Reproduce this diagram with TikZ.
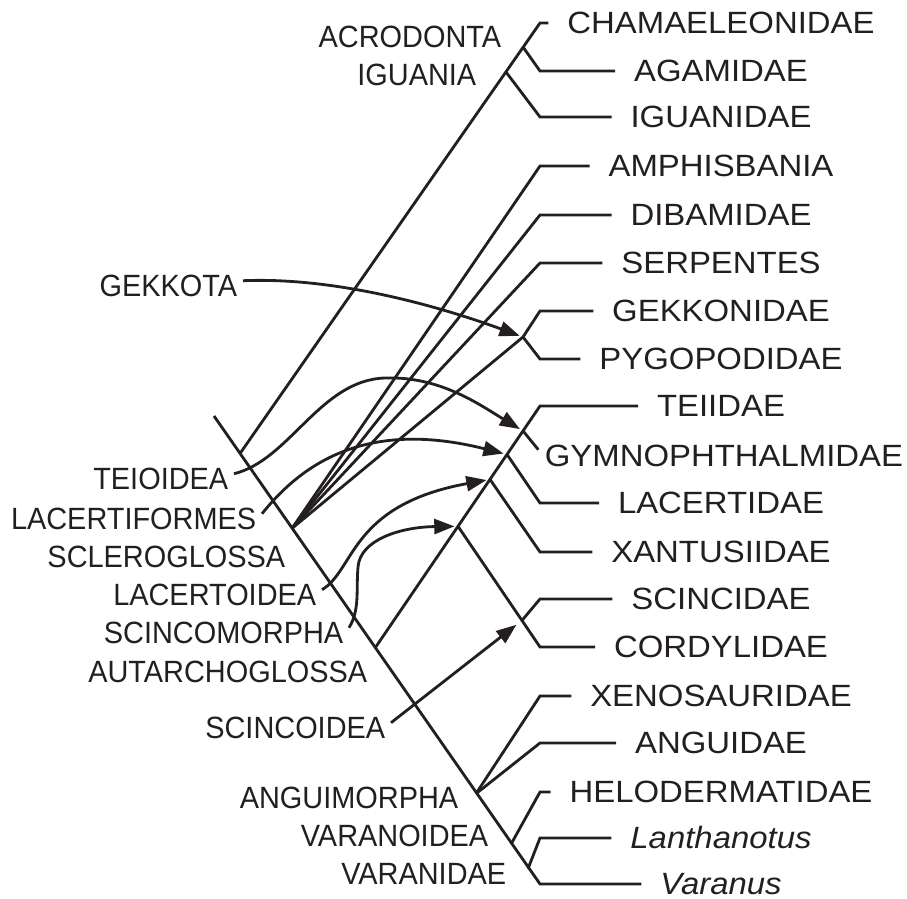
\documentclass[tikz,border=0pt]{standalone}
\usepackage{fontspec}
\setmainfont{Liberation Sans}
\newfontfamily\cladefont[FakeStretch=0.94]{Liberation Sans}
\newfontfamily\taxonfont[FakeStretch=1.07]{Liberation Sans}
\usetikzlibrary{arrows.meta,calc}
\definecolor{Ink}{RGB}{35,31,32}

\begin{document}
\begin{tikzpicture}[x=0.02cm,y=-0.02cm,line width=1.6pt,color=Ink,
    taxon/.style={font=\taxonfont\fontsize{17.5}{20}\selectfont,inner sep=0pt,
      text height=12.5pt,text depth=0pt},
    clade/.style={font=\cladefont\fontsize{17.5}{20}\selectfont,anchor=east,
      inner xsep=2.5pt,inner ysep=0pt,text height=12.5pt,text depth=0pt},
    br/.style={shorten >=10pt},
    arr/.style={-{Triangle[length=11.5pt,width=8.5pt]},shorten >=2pt}]
  \useasboundingbox (0,0) rectangle (907,899);

  % branch points
  \coordinate (kx) at (540,0);
  \coordinate (root) at (214,416);
  \coordinate (igj) at (240,453.5);
  \coordinate (scl) at (292,528.4);
  \coordinate (aut) at (375,648.1);
  \coordinate (ang) at (476,793.7);
  \coordinate (vao) at (511,844.2);
  \coordinate (vad) at (528,868.7);
  \coordinate (acr) at (523,47);
  \coordinate (igu) at (506,72);
  \coordinate (gek) at (523,337);
  \coordinate (teo) at (523,430.9);
  \coordinate (laf) at (507,454.4);
  \coordinate (lao) at (490,479.4);
  \coordinate (sco) at (458,526.3);

  % taxa
  \node[taxon] (cham) at (721,23) {CHAMAELEONIDAE};
  \node[taxon] (agam) at (721,71) {AGAMIDAE};
  \node[taxon] (iguan) at (721,117) {IGUANIDAE};
  \node[taxon] (amph) at (721,166) {AMPHISBANIA};
  \node[taxon] (dibam) at (721,215) {DIBAMIDAE};
  \node[taxon] (serp) at (721,263) {SERPENTES};
  \node[taxon] (gekk) at (721,311) {GEKKONIDAE};
  \node[taxon] (pygo) at (721,359) {PYGOPODIDAE};
  \node[taxon] (teii) at (721,406) {TEIIDAE};
  \node[taxon] (gymn) at (724,456) {GYMNOPHTHALMIDAE};
  \node[taxon] (lace) at (721,503) {LACERTIDAE};
  \node[taxon] (xant) at (721,552) {XANTUSIIDAE};
  \node[taxon] (scin) at (721,599) {SCINCIDAE};
  \node[taxon] (cord) at (721,647) {CORDYLIDAE};
  \node[taxon] (xeno) at (721,696) {XENOSAURIDAE};
  \node[taxon] (angu) at (721,743) {ANGUIDAE};
  \node[taxon] (helo) at (721,792) {HELODERMATIDAE};
  \node[taxon] (lant) at (721,838) {\itshape Lanthanotus};
  \node[taxon] (vara) at (721,884) {\itshape Varanus};

  \coordinate (sci) at ($(sco)!0.78!(cord -| kx)$);

  % clades
  \node[clade] (acrodonta) at (507,37) {ACRODONTA};
  \node[clade] (iguania) at (482,75) {IGUANIA};
  \node[clade] (gekkota) at (243,286) {GEKKOTA};
  \node[clade] (teioidea) at (234,479) {TEIOIDEA};
  \node[clade] (lacertiformes) at (262,519) {LACERTIFORMES};
  \node[clade] (scleroglossa) at (291,557) {SCLEROGLOSSA};
  \node[clade] (lacertoidea) at (322,595) {LACERTOIDEA};
  \node[clade] (scincomorpha) at (349,633) {SCINCOMORPHA};
  \node[clade] (autarchoglossa) at (373,672) {AUTARCHOGLOSSA};
  \node[clade] (scincoidea) at (391,728) {SCINCOIDEA};
  \node[clade] (anguimorpha) at (464,798) {ANGUIMORPHA};
  \node[clade] (varanoidea) at (494,836) {VARANOIDEA};
  \node[clade] (varanidae) at (512,874) {VARANIDAE};

  % tree
  \draw[br] (root) -- (vara -| kx) -- (vara.west);
  \draw[br] (igj) -- (cham -| kx) -- (cham.west);
  \draw[br] (acr) -- (agam -| kx) -- (agam.west);
  \draw[br] (igu) -- (iguan -| kx) -- (iguan.west);
  \draw[br] (scl) -- (amph -| kx) -- (amph.west);
  \draw[br] (scl) -- (dibam -| kx) -- (dibam.west);
  \draw[br] (scl) -- (serp -| kx) -- (serp.west);
  \draw (scl) -- (gek);
  \draw[br] (gek) -- (gekk -| kx) -- (gekk.west);
  \draw[br] (gek) -- (pygo -| kx) -- (pygo.west);
  \draw[br] (aut) -- (teii -| kx) -- (teii.west);
  \draw (teo) -- ($(teo)!0.75!(gymn.west)$);
  \draw[br] (laf) -- (lace -| kx) -- (lace.west);
  \draw[br] (lao) -- (xant -| kx) -- (xant.west);
  \draw[br] (sco) -- (cord -| kx) -- (cord.west);
  \draw[br] (sci) -- (scin -| kx) -- (scin.west);
  \draw[br] (ang) -- (xeno -| kx) -- (xeno.west);
  \draw[br] (ang) -- (angu -| kx) -- (angu.west);
  \draw[br] (vao) -- (helo -| kx) -- (helo.west);
  \draw[br] (vad) -- (lant -| kx) -- (lant.west);

  % pointers
  \draw[arr] ([yshift=3pt]gekkota.east) .. controls (330,277) and (430,303) .. (gek);
  \draw[arr] ([yshift=3pt]teioidea.east) .. controls (290,460) and (320,380) .. (385,378)
    .. controls (440,376) and (480,405) .. (teo);
  \draw[arr] ([yshift=3pt]lacertiformes.east) .. controls (305,460) and (370,420) .. (laf);
  \draw[arr] ([yshift=3pt]lacertoidea.east) .. controls (355,570) and (350,505) .. (lao);
  \draw[arr] ([yshift=3pt]scincomorpha.east) .. controls (360,610) and (356,590) .. (358,567)
    .. controls (360,540) and (400,527) .. (sco);
  \draw[arr,shorten >=4pt] ([yshift=3pt]scincoidea.east) -- (sci);
\end{tikzpicture}
\end{document}
